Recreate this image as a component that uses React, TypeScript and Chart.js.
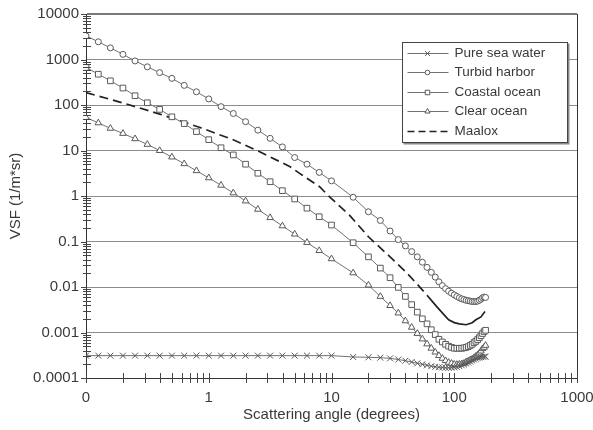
import React, { useEffect, useRef } from 'react';
import { Chart, registerables } from 'chart.js';
import { drawPoint } from 'chart.js/helpers';

Chart.register(...registerables);

// Scattering angles (degrees) of the Petzold-type measurements
const angles = [
  0.1, 0.126, 0.158, 0.2, 0.251, 0.316, 0.398, 0.501, 0.631, 0.794, 1, 1.259, 1.585, 1.995, 2.512, 3.162, 3.981,
  5.012, 6.31, 7.943, 10, 15, 20, 25, 30, 35, 40, 45, 50, 55, 60, 65, 70, 75, 80, 85, 90, 95, 100, 105, 110, 115,
  120, 125, 130, 135, 140, 145, 150, 155, 160, 165, 170, 175, 180,
];

const pureSeaWater = [
  3.1e-4, 3.1e-4, 3.1e-4, 3.1e-4, 3.1e-4, 3.1e-4, 3.1e-4, 3.1e-4, 3.1e-4, 3.1e-4, 3.1e-4, 3.1e-4, 3.1e-4, 3.1e-4,
  3.1e-4, 3.1e-4, 3.1e-4, 3.1e-4, 3.1e-4, 3.1e-4, 3.1e-4,
  2.9e-4, 2.85e-4, 2.8e-4, 2.7e-4, 2.55e-4, 2.4e-4, 2.25e-4, 2.1e-4, 2.0e-4, 1.9e-4, 1.82e-4, 1.76e-4, 1.72e-4,
  1.7e-4, 1.68e-4, 1.68e-4, 1.69e-4, 1.72e-4, 1.76e-4, 1.82e-4, 1.9e-4, 1.98e-4, 2.08e-4, 2.18e-4, 2.3e-4, 2.42e-4,
  2.55e-4, 2.65e-4, 2.75e-4, 2.82e-4, 2.88e-4, 2.92e-4, 2.95e-4, 2.95e-4,
];

const turbidHarbor = [
  3300, 2450, 1800, 1300, 930, 690, 515, 385, 270, 195, 136, 92, 65, 43, 28, 18.5, 12, 7.0, 5.0, 3.3, 2.15,
  0.94, 0.45, 0.29, 0.17, 0.11, 0.08, 0.06, 0.046, 0.035, 0.027, 0.021, 0.0165, 0.013, 0.0107, 0.0092, 0.0081,
  0.0073, 0.0067, 0.0062, 0.0058, 0.0055, 0.0053, 0.0051, 0.005, 0.0049, 0.0048, 0.0048, 0.0048, 0.0049, 0.0051,
  0.0054, 0.0058, 0.006, 0.0059,
];

const coastalOcean = [
  670, 475, 340, 236, 160, 112, 80, 55, 39, 26, 17.3, 11.5, 8.0, 5.0, 3.16, 2.06, 1.31, 0.86, 0.54, 0.35, 0.23,
  0.094, 0.046, 0.026, 0.016, 0.0098, 0.0062, 0.0041, 0.0028, 0.002, 0.00155, 0.00115, 0.0009, 0.00071, 0.00062,
  0.00055, 0.0005, 0.00047, 0.00045, 0.00045, 0.00045, 0.00045, 0.00046, 0.00047, 0.00049, 0.00052, 0.00055,
  0.0006, 0.00064, 0.0007, 0.00077, 0.00085, 0.00095, 0.00105, 0.00112,
];

const clearOcean = [
  53.2, 40.4, 30.7, 23.7, 18.1, 13.6, 9.95, 7.18, 5.11, 3.59, 2.5, 1.72, 1.17, 0.776, 0.509, 0.334, 0.22, 0.145,
  0.095, 0.063, 0.0416,
  0.0204, 0.011, 0.0062, 0.0039, 0.00268, 0.0018, 0.0013, 0.00095, 0.00072, 0.00056, 0.00045, 0.00037, 0.00031,
  0.00027, 0.00024, 0.00022, 0.00021, 0.0002, 0.000198, 0.0002, 0.000205, 0.00021, 0.000225, 0.000235, 0.00025,
  0.00026, 0.00028, 0.0003, 0.00032, 0.00035, 0.00039, 0.00044, 0.00047, 0.00052,
];

const maaloxAngles = [
  0.1, 0.2, 0.4, 0.85, 1.6, 2.6, 4.6, 5.5, 8, 9.6, 14, 20, 30, 40, 52, 60, 72, 82, 90, 100, 110, 125, 140, 150,
  165, 178,
];
const maaloxValues = [
  188, 111, 63, 32, 17, 9.4, 4.4, 3.15, 1.6, 0.97, 0.38, 0.127, 0.046, 0.022, 0.0102, 0.0066, 0.0037, 0.0025,
  0.0019, 0.00165, 0.00155, 0.00148, 0.00164, 0.0019, 0.0022, 0.0029,
];

const seriesLabels = ['Pure sea water', 'Turbid harbor', 'Coastal ocean', 'Clear ocean', 'Maalox'];

const xTickValues = [0.1, 1, 10, 100, 1000];
const xTickLabels = ['0', '1', '10', '100', '1000'];
const yTickValues = [0.0001, 0.001, 0.01, 0.1, 1, 10, 100, 1000, 10000];
const yTickLabels = ['0.0001', '0.001', '0.01', '0.1', '1', '10', '100', '1000', '10000'];

const FONT = '"Liberation Sans", Arial, Helvetica, sans-serif';
const TEXT = '#3a3a3a';
const LINE = '#707070';
const MARK = '#5a5a5a';

const toPoints = (xs: number[], ys: number[]) => xs.map((x, i) => ({ x, y: ys[i] }));

const markerSeries = (label: string, values: number[], pointStyle: string, radius: number, legendRadius: number) => ({
  label,
  data: toPoints(angles, values),
  showLine: true,
  borderColor: LINE,
  borderWidth: 1,
  pointStyle,
  pointRadius: radius,
  pointBorderColor: MARK,
  pointBackgroundColor: '#ffffff',
  pointBorderWidth: 1,
  tension: 0,
  legendRadius,
});

const decorPlugin = {
  id: 'decor',
  afterDraw(chart: any) {
    const { ctx, chartArea, scales } = chart;
    const xs = scales.x;
    const ys = scales.y;
    ctx.save();
    // right border
    ctx.strokeStyle = '#333';
    ctx.lineWidth = 1;
    ctx.beginPath();
    ctx.moveTo(Math.round(chartArea.right) + 0.5, chartArea.top);
    ctx.lineTo(Math.round(chartArea.right) + 0.5, chartArea.bottom);
    ctx.stroke();
    // minor / major ticks
    ctx.strokeStyle = '#444';
    ctx.beginPath();
    for (let e = -4; e <= 4; e++) {
      for (let m = 1; m <= 9; m++) {
        const v = m * Math.pow(10, e);
        if (v < 1e-4 * 0.999 || v > 1e4 * 1.001) continue;
        const py = Math.round(ys.getPixelForValue(v)) + 0.5;
        const l = Math.round(chartArea.left);
        if (m === 1) {
          ctx.moveTo(l - 5, py);
          ctx.lineTo(l, py);
        } else {
          ctx.moveTo(l - 3, py);
          ctx.lineTo(l + 5, py);
        }
      }
    }
    for (let e = -1; e <= 3; e++) {
      for (let m = 1; m <= 9; m++) {
        const v = m * Math.pow(10, e);
        if (v < 0.1 * 0.999 || v > 1000 * 1.001) continue;
        const px = Math.round(xs.getPixelForValue(v)) + 0.5;
        const b = Math.round(chartArea.bottom);
        ctx.moveTo(px, b - 5);
        ctx.lineTo(px, b + 5);
      }
    }
    ctx.stroke();

    // legend box
    const datasets = chart.data.datasets;
    const w = 165;
    const h = 100;
    const x0 = Math.round(chartArea.right) - 175 + 0.5;
    const y0 = Math.round(chartArea.top) + 28 + 0.5;
    ctx.fillStyle = '#888';
    ctx.fillRect(x0 + 1, y0 + 1, w + 1, h + 1);
    ctx.fillStyle = '#fff';
    ctx.fillRect(x0, y0, w, h);
    ctx.strokeStyle = '#444';
    ctx.lineWidth = 1;
    ctx.strokeRect(x0, y0, w, h);
    ctx.font = `13.5px ${FONT}`;
    ctx.textBaseline = 'middle';
    ctx.textAlign = 'left';
    datasets.forEach((ds: any, i: number) => {
      const cy = Math.round(y0 + 10 + i * 19.6) + 0.5;
      ctx.save();
      ctx.strokeStyle = ds.borderColor;
      ctx.lineWidth = ds.borderWidth;
      if (ds.borderDash && ds.borderDash.length) ctx.setLineDash([7, 4]);
      ctx.beginPath();
      ctx.moveTo(x0 + 5, cy);
      ctx.lineTo(x0 + 46, cy);
      ctx.stroke();
      ctx.restore();
      if (ds.pointRadius > 0) {
        ctx.save();
        ctx.strokeStyle = ds.pointBorderColor;
        ctx.fillStyle = ds.pointBackgroundColor;
        ctx.lineWidth = 1;
        drawPoint(ctx, { pointStyle: ds.pointStyle, radius: ds.legendRadius, borderWidth: 1, rotation: 0 }, x0 + 25, cy);
        ctx.restore();
      }
      ctx.fillStyle = TEXT;
      ctx.fillText(ds.label, x0 + 52, cy);
    });
    ctx.restore();
  },
};

export default function App() {
  const ref = useRef<HTMLCanvasElement | null>(null);

  useEffect(() => {
    if (!ref.current) return;
    const chart = new Chart(ref.current, {
      type: 'scatter',
      data: {
        datasets: [
          markerSeries(seriesLabels[0], pureSeaWater, 'crossRot', 4.2, 3.4),
          markerSeries(seriesLabels[1], turbidHarbor, 'circle', 3.0, 2.3),
          markerSeries(seriesLabels[2], coastalOcean, 'rect', 4.0, 3.2),
          markerSeries(seriesLabels[3], clearOcean, 'triangle', 3.8, 3.0),
          {
            label: seriesLabels[4],
            data: toPoints(maaloxAngles, maaloxValues),
            showLine: true,
            borderColor: '#222222',
            borderWidth: 1.7,
            borderDash: [9, 5],
            pointRadius: 0,
            tension: 0,
            segment: {
              borderDash: (c: any) => (c.p0.parsed.x >= 60 ? [] : undefined),
            },
          } as any,
        ],
      },
      options: {
        animation: false,
        responsive: false,
        devicePixelRatio: 1,
        layout: { padding: { top: 14, right: 16, left: 0, bottom: 0 } },
        plugins: { legend: { display: false }, tooltip: { enabled: false } },
        scales: {
          x: {
            type: 'logarithmic',
            min: 0.1,
            max: 1000,
            afterBuildTicks: (s: any) => {
              s.ticks = xTickValues.map((v) => ({ value: v }));
            },
            afterFit: (s: any) => {
              s.height = 52;
              s.paddingLeft = 0;
              s.paddingRight = 0;
            },
            ticks: {
              callback: (_v: any, i: number) => xTickLabels[i],
              autoSkip: false,
              maxRotation: 0,
              minRotation: 0,
              padding: 11,
              color: TEXT,
              font: { family: FONT, size: 15 },
            },
            grid: { drawOnChartArea: false, drawTicks: false, color: 'rgba(0,0,0,0)' },
            border: { display: true, color: '#333', width: 1 },
            title: {
              display: true,
              text: 'Scattering angle (degrees)',
              color: TEXT,
              font: { family: FONT, size: 15 },
              padding: { top: 0, bottom: 6 },
            },
          },
          y: {
            type: 'logarithmic',
            min: 0.0001,
            max: 10000,
            afterBuildTicks: (s: any) => {
              s.ticks = yTickValues.map((v) => ({ value: v }));
            },
            afterFit: (s: any) => {
              s.width = 86;
              s.paddingTop = 0;
              s.paddingBottom = 0;
            },
            ticks: {
              callback: (_v: any, i: number) => yTickLabels[i],
              autoSkip: false,
              padding: 7,
              color: TEXT,
              font: { family: FONT, size: 15 },
            },
            grid: {
              drawTicks: false,
              color: (c: any) => (c.tick && c.tick.value === 10000 ? '#7a7a7a' : '#8c8c8c'),
              lineWidth: (c: any) => (c.tick && c.tick.value === 10000 ? 2 : 1),
            },
            border: { display: true, color: '#333', width: 1 },
            title: {
              display: true,
              text: 'VSF (1/m*sr)',
              color: TEXT,
              font: { family: FONT, size: 15 },
              padding: { top: 7, bottom: 0 },
            },
          },
        },
      } as any,
      plugins: [decorPlugin],
    });
    return () => chart.destroy();
  }, []);

  return (
    <div style={{ position: 'absolute', left: 0, top: 0, width: 593, height: 430, background: '#fff' }}>
      <canvas ref={ref} width={593} height={430} style={{ display: 'block' }} />
    </div>
  );
}
